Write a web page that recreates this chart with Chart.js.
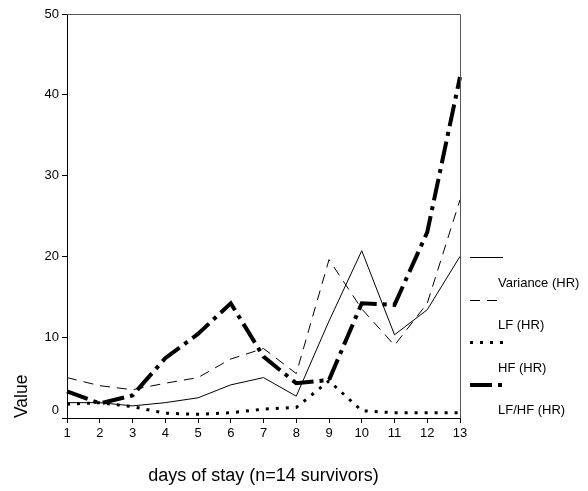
<!DOCTYPE html>
<html><head><meta charset="utf-8">
<script src="https://cdn.jsdelivr.net/npm/chart.js@4.4.1/dist/chart.umd.min.js"></script>
<style>html,body{margin:0;padding:0;background:#fff}#wrap{width:588px;height:491px}</style>
</head><body><div id="wrap"><canvas id="c" width="588" height="491"></canvas></div>
<script>
const days = ['1','2','3','4','5','6','7','8','9','10','11','12','13'];
const variance = [1.9, 1.9, 1.5, 1.9, 2.5, 4.1, 5.0, 2.7, 12.0, 20.7, 10.3, 13.4, 20.0];
const lf = [5.0, 4.0, 3.5, 4.3, 5.0, 7.3, 8.6, 5.5, 19.6, 13.5, 9.0, 14.2, 27.0];
const hf = [1.7, 1.9, 1.4, 0.6, 0.45, 0.65, 1.1, 1.3, 4.6, 0.9, 0.65, 0.65, 0.65];
const lfhf = [3.3, 1.8, 2.8, 7.4, 10.4, 14.2, 7.6, 4.3, 4.7, 14.2, 14.0, 23.0, 42.2];
const seriesNames = ['Variance (HR)', 'LF (HR)', 'HF (HR)', 'LF/HF (HR)'];
const yMin = 0, yMax = 50, yStep = 10;
const xTitle = 'days of stay (n=14 survivors)';
const yTitle = 'Value';

const FONT = '"Liberation Sans", Arial, sans-serif';

const styles = [
  {borderWidth: 1, borderDash: []},
  {borderWidth: 1, borderDash: [10, 7]},
  {borderWidth: 3, borderDash: [3, 7]},
  {borderWidth: 4, borderDash: [22, 6, 4, 6]}
];
const seriesData = [variance, lf, hf, lfhf];

const frame = {
  id: 'frame',
  afterDraw(chart) {
    const {ctx, chartArea: a} = chart;
    ctx.save();
    ctx.strokeStyle = '#555';
    ctx.lineWidth = 1;
    ctx.beginPath();
    ctx.moveTo(a.left, a.top + 0.5);
    ctx.lineTo(a.right + 0.5, a.top + 0.5);
    ctx.lineTo(a.right + 0.5, a.bottom);
    ctx.stroke();
    // zero label on the value axis sits a little above its tick
    const ys = chart.scales.y;
    ctx.fillStyle = '#000';
    ctx.font = '13px ' + FONT;
    ctx.textAlign = 'right';
    ctx.textBaseline = 'middle';
    ctx.fillText(String(yMin), ys.right - 8, ys.getPixelForValue(yMin) - 8);
    ctx.restore();
  }
};

const sideLegend = {
  id: 'sideLegend',
  afterDraw(chart) {
    const ctx = chart.ctx;
    const x0 = 470, x1 = 503, yLine0 = 257, yText0 = 283, step = 42.6;
    ctx.save();
    chart.data.datasets.forEach((ds, i) => {
      ctx.strokeStyle = '#000';
      ctx.lineWidth = ds.borderWidth;
      ctx.setLineDash(ds.borderDash || []);
      ctx.lineCap = 'butt';
      ctx.beginPath();
      const y = Math.round(yLine0 + i * step) + (ds.borderWidth % 2 ? 0.5 : 0);
      ctx.moveTo(x0, y);
      ctx.lineTo(x1, y);
      ctx.stroke();
      ctx.setLineDash([]);
      ctx.fillStyle = '#000';
      ctx.font = '13px ' + FONT;
      ctx.textBaseline = 'middle';
      ctx.textAlign = 'left';
      ctx.fillText(ds.label, 498, yText0 + i * step);
    });
    ctx.restore();
  }
};

new Chart(document.getElementById('c'), {
  type: 'line',
  data: {
    labels: days,
    datasets: seriesData.map((d, i) => ({
      label: seriesNames[i],
      data: d,
      borderColor: '#000',
      backgroundColor: '#000',
      borderWidth: styles[i].borderWidth,
      borderDash: styles[i].borderDash,
      borderCapStyle: 'butt',
      borderJoinStyle: 'miter',
      pointRadius: 0,
      tension: 0,
      fill: false
    }))
  },
  options: {
    responsive: false,
    animation: false,
    devicePixelRatio: 1,
    layout: {padding: {left: 8, right: 128, top: 14, bottom: 0}},
    plugins: {legend: {display: false}, tooltip: {enabled: false}},
    scales: {
      x: {
        type: 'category',
        offset: false,
        grid: {display: true, drawOnChartArea: false, drawTicks: true, tickLength: 5, color: '#000'},
        border: {display: true, color: '#000', width: 1},
        ticks: {color: '#000', font: {family: FONT, size: 13}, padding: 3, maxRotation: 0, autoSkip: false},
        title: {display: true, text: xTitle, color: '#000', font: {family: FONT, size: 18}},
        afterFit: s => { s.height = 73; }
      },
      y: {
        min: yMin, max: yMax,
        grid: {display: true, drawOnChartArea: false, drawTicks: true, tickLength: 5, color: '#000'},
        border: {display: true, color: '#000', width: 1},
        ticks: {stepSize: yStep, color: '#000', font: {family: FONT, size: 13}, padding: 3,
                callback: v => (v === yMin ? '' : String(v))},
        title: {display: true, text: yTitle, align: 'start', color: '#000', font: {family: FONT, size: 17.5}},
        afterFit: s => { s.width = 59; }
      }
    }
  },
  plugins: [frame, sideLegend]
});
</script>
</body></html>
